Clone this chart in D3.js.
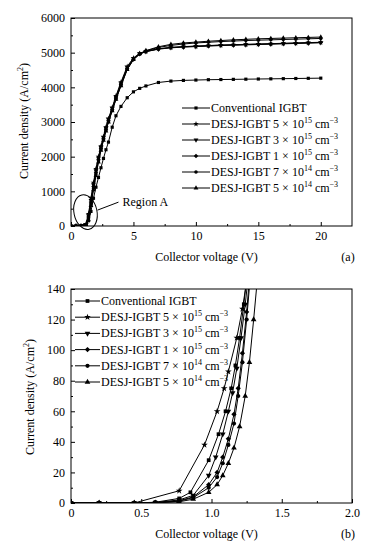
<!DOCTYPE html>
<html>
<head>
<meta charset="utf-8">
<script src="https://cdn.jsdelivr.net/npm/d3@7"></script>
<style>
body { margin: 0; background: #fff; }
svg { font-family: "Liberation Serif", "Times New Roman", serif; }
</style>
</head>
<body>
<svg id="chart" width="387" height="549"></svg>
<script>
// series labels (doping level and exponent for the DESJ devices)
var seriesNames = ["Conventional IGBT", "DESJ-IGBT", "DESJ-IGBT", "DESJ-IGBT", "DESJ-IGBT", "DESJ-IGBT"];
var seriesDoping = ["", "5", "3", "1", "7", "5"];
var seriesExp = ["", "15", "15", "15", "14", "14"];
var seriesMarker = ["square", "star", "down", "diamond", "circle", "up"];

// (a) full output curves
var topVoltage = [0,0.4,0.8,1.0,1.2,1.4,1.6,1.8,2.0,2.2,2.4,2.6,2.8,3.0,3.3,3.6,4.0,4.5,5.0,5.5,6.0,7,8,9,10,11,12,13,14,15,16,17,18,19,20];
var topConv  = [0,0,0,0,20,150,420,800,1120,1400,1680,1950,2200,2420,2850,3180,3450,3700,3870,3970,4040,4140,4180,4200,4210,4220,4225,4230,4235,4240,4245,4250,4255,4260,4265];
var top5e15  = [0,0,0,0,60,350,800,1250,1650,2000,2300,2580,2850,3100,3420,3750,4150,4600,4850,4980,5040,5110,5150,5170,5185,5200,5215,5225,5235,5245,5255,5265,5275,5285,5295];
var top3e15  = [0,0,0,0,40,300,740,1190,1600,1960,2270,2550,2820,3070,3390,3720,4110,4570,4830,4970,5030,5100,5140,5160,5175,5190,5205,5215,5225,5235,5245,5255,5265,5275,5285];
var top1e15  = [0,0,0,0,25,260,690,1140,1550,1920,2240,2520,2790,3040,3360,3690,4080,4540,4810,4960,5030,5110,5150,5175,5190,5205,5220,5230,5240,5250,5260,5270,5280,5290,5300];
var top7e14  = [0,0,0,0,15,220,640,1090,1500,1880,2210,2490,2760,3010,3330,3660,4050,4520,4800,4960,5050,5150,5210,5250,5280,5300,5320,5335,5350,5360,5370,5380,5390,5400,5410];
var top5e14  = [0,0,0,0,8,180,590,1040,1450,1840,2180,2470,2740,3000,3320,3650,4040,4510,4800,4970,5060,5170,5240,5280,5305,5330,5350,5370,5385,5400,5410,5420,5430,5440,5450];

var topXTicks = [0, 5, 10, 15, 20];
var topXLabels = ["0", "5", "10", "15", "20"];
var topXMinor = [2.5, 7.5, 12.5, 17.5];
var topYTicks = [0, 1000, 2000, 3000, 4000, 5000, 6000];
var topYLabels = ["0", "1000", "2000", "3000", "4000", "5000", "6000"];
var topYMinor = [500, 1500, 2500, 3500, 4500, 5500];

// (b) low voltage zoom, region A
var botConvV  = [0,0.2,0.45,0.6,0.77,0.85,0.98,1.05,1.1,1.14,1.17,1.2,1.23,1.26];
var botConvJ  = [0,0,0,0.5,3,7,28,45,60,75,90,108,130,155];
var bot5e15V  = [0,0.2,0.45,0.77,0.95,1.04,1.09,1.12,1.18,1.22,1.25,1.28];
var bot5e15J  = [0,0,0,8,38,60,75,86,108,127,145,170];
var bot3e15V  = [0,0.2,0.45,0.6,0.77,0.87,0.98,1.03,1.08,1.12,1.15,1.18,1.21,1.24,1.27];
var bot3e15J  = [0,0,0,0.3,2,5,18,30,45,60,72,88,108,130,155];
var bot1e15V  = [0,0.2,0.45,0.6,0.77,0.87,0.98,1.04,1.08,1.12,1.16,1.19,1.22,1.25,1.28];
var bot1e15J  = [0,0,0,0.2,1.5,4,12,20,30,42,58,75,98,125,158];
var bot7e14V  = [0,0.2,0.45,0.6,0.77,0.87,0.98,1.04,1.08,1.12,1.16,1.19,1.22,1.25,1.28];
var bot7e14J  = [0,0,0,0.2,1.2,3.5,10,17,26,38,52,70,92,120,152];
var bot5e14V  = [0,0.2,0.45,0.6,0.77,0.87,0.98,1.04,1.08,1.12,1.16,1.2,1.24,1.27,1.3,1.33];
var bot5e14J  = [0,0,0,0.1,0.8,2.5,7,12,18,26,36,50,70,92,120,150];

var botXTicks = [0, 0.5, 1, 1.5, 2];
var botXLabels = ["0", "0.5", "1.0", "1.5", "2.0"];
var botXMinor = [0.25, 0.75, 1.25, 1.75];
var botYTicks = [0, 20, 40, 60, 80, 100, 120, 140];
var botYLabels = ["0", "20", "40", "60", "80", "100", "120", "140"];
var botYMinor = [10, 30, 50, 70, 90, 110, 130];

var svg = d3.select("#chart");

function markerPath(kind, size) {
  if (kind == "square") return d3.symbol().type(d3.symbolSquare).size(size)();
  if (kind == "star") return d3.symbol().type(d3.symbolStar).size(size)();
  if (kind == "circle") return d3.symbol().type(d3.symbolCircle).size(size)();
  if (kind == "diamond") return d3.symbol().type(d3.symbolSquare).size(size)();
  return d3.symbol().type(d3.symbolTriangle).size(size)();
}
function markerRotate(kind) {
  if (kind == "diamond") return 45;
  if (kind == "down") return 180;
  return 0;
}

function drawPanel(p) {
  var x = d3.scaleLinear().domain(p.xDomain).range([p.left, p.right]);
  var y = d3.scaleLinear().domain(p.yDomain).range([p.bottom, p.top]);
  var g = svg.append("g");

  g.append("clipPath").attr("id", p.id + "-clip")
    .append("rect")
    .attr("x", p.left).attr("y", p.top)
    .attr("width", p.right - p.left).attr("height", p.bottom - p.top);

  // minor ticks (inward)
  g.append("g").attr("class", "ax").attr("transform", "translate(0," + p.bottom + ")")
    .call(d3.axisBottom(x).tickValues(p.xMinor).tickSize(-2).tickFormat(""));
  g.append("g").attr("class", "ax").attr("transform", "translate(" + p.left + ",0)")
    .call(d3.axisLeft(y).tickValues(p.yMinor).tickSize(-2).tickFormat(""));

  // major ticks
  g.append("g").attr("class", "ax").attr("transform", "translate(0," + p.bottom + ")")
    .call(d3.axisBottom(x).tickValues(p.xTicks).tickSize(-4).tickPadding(5)
      .tickFormat(function(d, i) { return p.xLabels[i]; }));
  g.append("g").attr("class", "ax").attr("transform", "translate(" + p.left + ",0)")
    .call(d3.axisLeft(y).tickValues(p.yTicks).tickSize(-4).tickPadding(6)
      .tickFormat(function(d, i) { return p.yLabels[i]; }));

  g.selectAll(".ax").attr("font-family", null).attr("font-size", null);
  g.selectAll(".domain").remove();
  g.selectAll(".tick line").style("stroke", "#000");
  g.selectAll(".tick text")
    .style("font-size", "12px")
    .style("fill", "#000");

  g.append("rect")
    .attr("x", p.left).attr("y", p.top)
    .attr("width", p.right - p.left).attr("height", p.bottom - p.top)
    .style("fill", "none").style("stroke", "#000").style("stroke-width", 1);

  var line = d3.line().x(function(d) { return x(d[0]); }).y(function(d) { return y(d[1]); });
  var plot = g.append("g").attr("clip-path", "url(#" + p.id + "-clip)");

  p.series.forEach(function(s, k) {
    var pts = s.v.map(function(v, i) { return [v, s.j[i]]; });
    plot.append("path").datum(pts)
      .attr("d", line)
      .style("fill", "none").style("stroke", "#000").style("stroke-width", 1);
    plot.selectAll(".m" + k).data(pts).enter()
      .append("path")
      .attr("transform", function(d) {
        return "translate(" + x(d[0]) + "," + y(d[1]) + ") rotate(" + markerRotate(seriesMarker[k]) + ")";
      })
      .attr("d", markerPath(seriesMarker[k], p.markerSize))
      .style("fill", "#000");
  });

  // legend
  var legend = g.append("g");
  seriesNames.forEach(function(name, i) {
    var ly = p.legendY + i * p.legendStep;
    legend.append("line")
      .attr("x1", p.legendX).attr("x2", p.legendX + p.legendLen)
      .attr("y1", ly).attr("y2", ly)
      .style("stroke", "#000").style("stroke-width", 1);
    legend.append("path")
      .attr("transform", "translate(" + (p.legendX + p.legendLen / 2) + "," + ly + ") rotate(" + markerRotate(seriesMarker[i]) + ")")
      .attr("d", markerPath(seriesMarker[i], p.markerSize))
      .style("fill", "#000");
    var t = legend.append("text")
      .attr("x", p.legendX + p.legendLen + 1)
      .attr("y", ly + 4)
      .style("font-size", "12px");
    if (seriesDoping[i] == "") {
      t.text(name);
    } else {
      t.append("tspan").text(name + " " + seriesDoping[i] + " \u00d7 10");
      t.append("tspan").attr("dy", -5).style("font-size", "8px").text(seriesExp[i]);
      t.append("tspan").attr("dy", 5).text(" cm");
      t.append("tspan").attr("dy", -5).style("font-size", "8px").text("\u22123");
    }
  });

  // axis titles
  g.append("text")
    .attr("x", (p.left + p.right) / 2 - 5).attr("y", p.bottom + 35)
    .attr("text-anchor", "middle").style("font-size", "12px")
    .text("Collector voltage (V)");
  g.append("text")
    .attr("x", p.right - 4).attr("y", p.bottom + 35)
    .attr("text-anchor", "middle").style("font-size", "12px")
    .text(p.tag);
  var yt = g.append("text")
    .attr("transform", "translate(" + p.yTitleX + "," + p.yTitleY + ") rotate(-90)")
    .attr("text-anchor", "middle").style("font-size", "12px");
  yt.append("tspan").text("Current density (A/cm");
  yt.append("tspan").attr("dy", -5).style("font-size", "8px").text("2");
  yt.append("tspan").attr("dy", 5).text(")");

  return { x: x, y: y, g: g };
}

var panelA = drawPanel({
  id: "pa", left: 71, right: 352, top: 18, bottom: 226,
  xDomain: [0, 22.5], yDomain: [0, 6000],
  xTicks: topXTicks, xLabels: topXLabels, xMinor: topXMinor,
  yTicks: topYTicks, yLabels: topYLabels, yMinor: topYMinor,
  series: [
    { v: topVoltage, j: topConv },
    { v: topVoltage, j: top5e15 },
    { v: topVoltage, j: top3e15 },
    { v: topVoltage, j: top1e15 },
    { v: topVoltage, j: top7e14 },
    { v: topVoltage, j: top5e14 }
  ],
  markerSize: 10,
  legendX: 182, legendY: 108, legendStep: 16, legendLen: 28,
  tag: "(a)", yTitleX: 28, yTitleY: 121
});

// region A annotation
var regionV = 1.16, regionJ = 400;
var ex = panelA.x(regionV), ey = panelA.y(regionJ);
panelA.g.append("ellipse")
  .attr("transform", "translate(" + ex + "," + ey + ") rotate(-12)")
  .attr("rx", 11.5).attr("ry", 17.5)
  .style("fill", "none").style("stroke", "#000").style("stroke-width", 1);
panelA.g.append("line")
  .attr("x1", ex + 12).attr("y1", ey - 2)
  .attr("x2", ex + 33).attr("y2", ey - 10)
  .style("stroke", "#000").style("stroke-width", 1);
panelA.g.append("text")
  .attr("x", ex + 37).attr("y", ey - 6)
  .style("font-size", "12px")
  .text("Region A");

drawPanel({
  id: "pb", left: 71, right: 352, top: 289, bottom: 503,
  xDomain: [0, 2], yDomain: [0, 140],
  xTicks: botXTicks, xLabels: botXLabels, xMinor: botXMinor,
  yTicks: botYTicks, yLabels: botYLabels, yMinor: botYMinor,
  series: [
    { v: botConvV, j: botConvJ },
    { v: bot5e15V, j: bot5e15J },
    { v: bot3e15V, j: bot3e15J },
    { v: bot1e15V, j: bot1e15J },
    { v: bot7e14V, j: bot7e14J },
    { v: bot5e14V, j: bot5e14J }
  ],
  markerSize: 14,
  legendX: 75, legendY: 301, legendStep: 16.2, legendLen: 25,
  tag: "(b)", yTitleX: 34, yTitleY: 397
});
</script>
</body>
</html>
